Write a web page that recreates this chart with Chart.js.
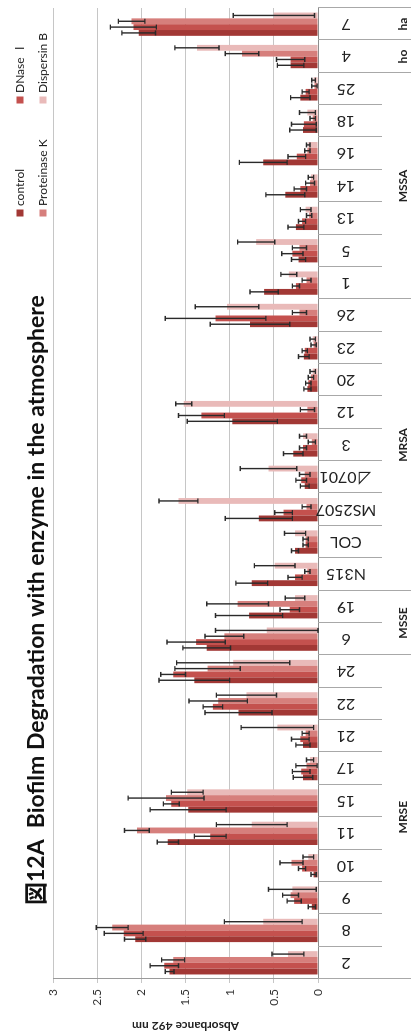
<!DOCTYPE html>
<html>
<head>
<meta charset="utf-8">
<title>Biofilm Degradation</title>
<script src="https://cdn.jsdelivr.net/npm/chart.js@4.4.1/dist/chart.umd.min.js"></script>
<style>
  html, body { margin: 0; padding: 0; background: #fff; overflow: hidden; }
  #page { position: relative; width: 411px; height: 1035px; overflow: hidden; }
  /* chart is drawn upright, then turned a quarter turn like the scan */
  #wrap { position: absolute; left: 0; top: 0; width: 1035px; height: 411px;
          transform-origin: 0 0; transform: translateY(1035px) rotate(-90deg); }
</style>
</head>
<body>
<div id="page"><div id="wrap"><canvas id="chart" width="1035" height="411"></canvas></div></div>
<script>
// categories (left to right on the upright chart)
const categories = ['2', '8', '9', '10', '11', '15', '17', '21', '22', '24',
    '6', '19',
    'N315', 'COL', 'MS2507', '⊿0701', '3', '12', '20', '23', '26',
    '1', '5', '13', '14', '16', '18', '25',
    '4', '7'];
const groupNames = ['MRSE', 'MSSE', 'MRSA', 'MSSA', 'ho', 'ha'];
const groupSizes = [10, 2, 9, 7, 1, 1];

const seriesNames = ['control', 'DNase Ⅰ', 'Proteinase K', 'Dispersin B'];

const controlValues = [1.68, 2.07, 0.07, 0.05, 1.70, 1.47, 0.17, 0.17, 0.90, 1.40,
    1.26, 0.78,
    0.75, 0.26, 0.67, 0.15, 0.28, 0.97, 0.12, 0.16, 0.77,
    0.61, 0.22, 0.25, 0.37, 0.62, 0.17, 0.20,
    0.31, 2.03];
const controlErrors = [0.05, 0.12, 0.04, 0.03, 0.12, 0.43, 0.11, 0.08, 0.38, 0.40,
    0.27, 0.38,
    0.18, 0.04, 0.38, 0.05, 0.11, 0.51, 0.04, 0.06, 0.45,
    0.16, 0.08, 0.09, 0.22, 0.27, 0.15, 0.11,
    0.15, 0.19];

const dnaseValues = [1.74, 2.20, 0.27, 0.18, 1.22, 1.66, 0.19, 0.20, 1.19, 1.64,
    1.38, 0.32,
    0.26, 0.14, 0.39, 0.19, 0.17, 1.32, 0.11, 0.15, 1.16,
    0.25, 0.29, 0.18, 0.20, 0.24, 0.16, 0.14,
    0.31, 2.09];
const dnaseErrors = [0.16, 0.22, 0.08, 0.04, 0.18, 0.09, 0.10, 0.10, 0.11, 0.14,
    0.33, 0.11,
    0.08, 0.03, 0.10, 0.06, 0.04, 0.26, 0.03, 0.03, 0.57,
    0.04, 0.12, 0.04, 0.07, 0.10, 0.14, 0.04,
    0.16, 0.26];

const proteinaseValues = [1.64, 2.33, 0.31, 0.30, 2.05, 1.72, 0.13, 0.14, 1.13, 1.25,
    1.06, 0.91,
    0.12, 0.14, 0.13, 0.15, 0.07, 0.12, 0.08, 0.05, 0.21,
    0.13, 0.21, 0.10, 0.09, 0.12, 0.06, 0.04,
    0.86, 2.11];
const proteinaseErrors = [0.13, 0.18, 0.09, 0.13, 0.14, 0.43, 0.12, 0.04, 0.33, 0.37,
    0.22, 0.35,
    0.03, 0.03, 0.05, 0.06, 0.04, 0.08, 0.03, 0.03, 0.08,
    0.05, 0.08, 0.03, 0.05, 0.03, 0.03, 0.03,
    0.19, 0.15];

const dispersinValues = [0.34, 0.62, 0.29, 0.11, 0.75, 1.48, 0.09, 0.46, 0.81, 0.96,
    0.58, 0.26,
    0.49, 0.26, 1.58, 0.56, 0.17, 1.52, 0.06, 0.06, 1.03,
    0.33, 0.70, 0.14, 0.08, 0.11, 0.12, 0.05,
    1.37, 0.50];
const dispersinErrors = [0.18, 0.44, 0.27, 0.06, 0.40, 0.18, 0.04, 0.41, 0.34, 0.64,
    0.58, 0.11,
    0.23, 0.12, 0.22, 0.32, 0.04, 0.09, 0.03, 0.03, 0.36,
    0.09, 0.21, 0.06, 0.03, 0.02, 0.09, 0.02,
    0.25, 0.46];

const yTicks = [0, 0.5, 1, 1.5, 2, 2.5, 3];

const seriesValues = [controlValues, dnaseValues, proteinaseValues, dispersinValues];
const seriesErrors = [controlErrors, dnaseErrors, proteinaseErrors, dispersinErrors];
const seriesColors = ['#A23835', '#C4514E', '#D67F7C', '#E9BAB9'];

const FONT = 'Lato, "Noto Sans CJK JP", sans-serif';

// symmetric error bars on every bar
const errorBarPlugin = {
    id: 'errorBars',
    afterDatasetsDraw(chart) {
        const { ctx } = chart;
        const y = chart.scales.y;
        ctx.save();
        ctx.strokeStyle = '#2a2a2a';
        ctx.lineWidth = 1.4;
        chart.data.datasets.forEach((ds, i) => {
            chart.getDatasetMeta(i).data.forEach((bar, j) => {
                const v = ds.data[j];
                const e = seriesErrors[i][j];
                const top = y.getPixelForValue(v + e);
                const bottom = y.getPixelForValue(Math.max(0, v - e));
                const cap = 2.5;
                ctx.beginPath();
                ctx.moveTo(bar.x, top); ctx.lineTo(bar.x, bottom);
                ctx.moveTo(bar.x - cap, top); ctx.lineTo(bar.x + cap, top);
                ctx.moveTo(bar.x - cap, bottom); ctx.lineTo(bar.x + cap, bottom);
                ctx.stroke();
            });
        });
        ctx.restore();
    }
};

// title, legend and the two-level category axis
const decorPlugin = {
    id: 'decor',
    afterDraw(chart) {
        const { ctx } = chart;
        const x = chart.scales.x;
        const axisY = chart.chartArea.bottom;
        const step = x.width / categories.length;
        ctx.save();

        // title
        ctx.fillStyle = '#111';
        ctx.font = 'bold 23px ' + FONT;
        ctx.textAlign = 'left';
        ctx.textBaseline = 'alphabetic';
        ctx.fillText('図12A  Biofilm Degradation with enzyme in the atmosphere', 130, 44);

        // legend, two rows of two
        ctx.font = '12px ' + FONT;
        ctx.textBaseline = 'middle';
        const legendX = [822, 935];
        const legendY = [20, 43];
        seriesNames.forEach((name, i) => {
            const lx = legendX[i % 2];
            const ly = legendY[Math.floor(i / 2)];
            ctx.fillStyle = seriesColors[i];
            ctx.fillRect(lx - 3.5, ly - 3.5, 7, 7);
            ctx.fillStyle = '#222';
            ctx.fillText(name, lx + 7, ly);
        });

        // separators between categories and groups
        ctx.strokeStyle = '#a8a8a8';
        ctx.lineWidth = 1;
        const bounds = new Set([0]);
        let acc = 0;
        groupSizes.forEach(n => { acc += n; bounds.add(acc); });
        for (let k = 0; k <= categories.length; k++) {
            const px = Math.round(x.left + k * step) + 0.5;
            ctx.beginPath();
            ctx.moveTo(px, axisY);
            ctx.lineTo(px, bounds.has(k) ? chart.height : axisY + 64);
            ctx.stroke();
        }

        // category labels, turned to read upward
        ctx.fillStyle = '#222';
        ctx.font = '16px ' + FONT;
        ctx.textAlign = 'center';
        ctx.textBaseline = 'middle';
        categories.forEach((c, i) => {
            ctx.save();
            ctx.translate(x.getPixelForValue(i), axisY + 28);
            ctx.rotate(-Math.PI / 2);
            ctx.fillText(c, 0, 0);
            ctx.restore();
        });

        // group labels
        ctx.font = 'bold 12px ' + FONT;
        let start = 0;
        groupNames.forEach((g, gi) => {
            const mid = x.left + (start + groupSizes[gi] / 2) * step;
            ctx.fillText(g, mid, axisY + 85);
            start += groupSizes[gi];
        });

        ctx.restore();
    }
};

new Chart(document.getElementById('chart').getContext('2d'), {
    type: 'bar',
    data: {
        labels: categories,
        datasets: seriesNames.map((name, i) => ({
            label: name,
            data: seriesValues[i],
            backgroundColor: seriesColors[i],
            borderWidth: 0,
            categoryPercentage: 0.72,
            barPercentage: 1.0
        }))
    },
    options: {
        responsive: false,
        animation: false,
        layout: { padding: { top: 53, right: 8, left: 0, bottom: 0 } },
        plugins: {
            legend: { display: false },
            title: { display: false },
            tooltip: { enabled: false }
        },
        scales: {
            x: {
                grid: { display: false },
                border: { display: true, color: '#8c8c8c' },
                ticks: { display: false },
                afterFit: s => { s.height = 93; }
            },
            y: {
                min: 0,
                max: 3,
                afterBuildTicks: s => { s.ticks = yTicks.map(v => ({ value: v })); },
                ticks: {
                    font: { family: FONT, size: 12 },
                    color: '#333',
                    padding: 6,
                    callback: v => String(v)
                },
                grid: { color: '#c6c6c6', tickLength: 4 },
                border: { color: '#9a9a9a' },
                title: {
                    display: true,
                    text: 'Absorbance 492 nm',
                    font: { family: FONT, size: 12, weight: 'bold' },
                    color: '#222',
                    padding: { top: 2, bottom: 0 }
                },
                afterFit: s => { s.width = 56; }
            }
        }
    },
    plugins: [errorBarPlugin, decorPlugin]
});
</script>
</body>
</html>
